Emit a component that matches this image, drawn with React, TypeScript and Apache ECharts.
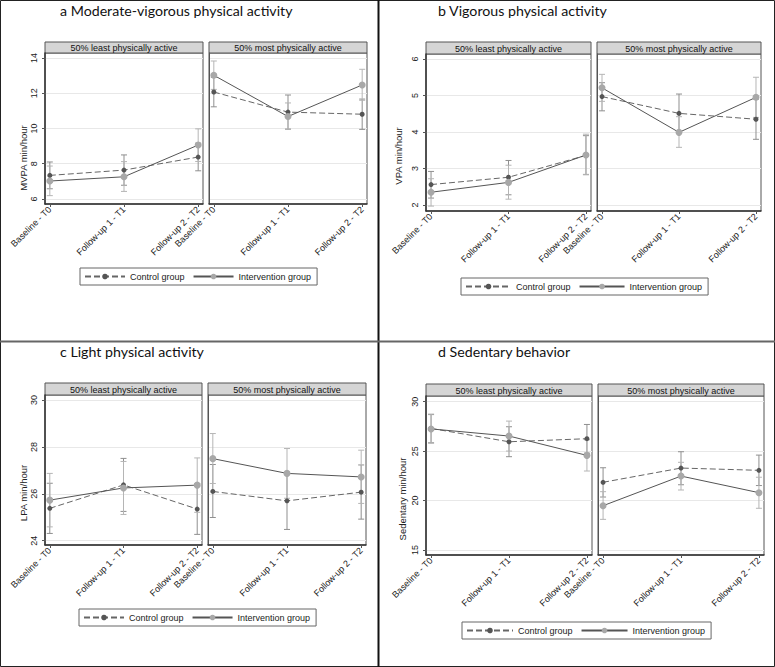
import React, { useEffect, useRef } from "react";
import * as echarts from "echarts";

// ---------- text ----------
const timepoints = ["Baseline - T0", "Follow-up 1 - T1", "Follow-up 2 - T2"];
const facetLabels = ["50% least physically active", "50% most physically active"];
const groupNames = ["Control group", "Intervention group"];
const panelTitles = [
  "a Moderate-vigorous physical activity",
  "b Vigorous physical activity",
  "c Light physical activity",
  "d Sedentary behavior",
];
const yAxisTitles = ["MVPA min/hour", "VPA min/hour", "LPA min/hour", "Sedentary min/hour"];

// ---------- tick labels ----------
const yTicksA = [6, 8, 10, 12, 14];
const yTicksB = [2, 3, 4, 5, 6];
const yTicksC = [24, 26, 28, 30];
const yTicksD = [15, 20, 25, 30];

// ---------- a: MVPA ----------
const mvpaLeastControl = [7.34, 7.64, 8.38];
const mvpaLeastControlLo = [6.58, 6.78, 7.6];
const mvpaLeastControlHi = [8.1, 8.5, 9.17];
const mvpaLeastInterv = [7.02, 7.26, 9.06];
const mvpaLeastIntervLo = [6.19, 6.43, 8.13];
const mvpaLeastIntervHi = [7.87, 8.12, 9.98];
const mvpaMostControl = [12.07, 10.93, 10.81];
const mvpaMostControlLo = [11.23, 9.96, 9.95];
const mvpaMostControlHi = [12.9, 11.9, 11.67];
const mvpaMostInterv = [13.02, 10.68, 12.47];
const mvpaMostIntervLo = [12.22, 9.97, 11.6];
const mvpaMostIntervHi = [13.83, 11.45, 13.36];

// ---------- b: VPA ----------
const vpaLeastControl = [2.56, 2.76, 3.36];
const vpaLeastControlLo = [2.19, 2.28, 2.83];
const vpaLeastControlHi = [2.92, 3.22, 3.9];
const vpaLeastInterv = [2.35, 2.62, 3.37];
const vpaLeastIntervLo = [1.97, 2.16, 2.84];
const vpaLeastIntervHi = [2.72, 3.09, 3.94];
const vpaMostControl = [4.97, 4.51, 4.35];
const vpaMostControlLo = [4.58, 3.98, 3.8];
const vpaMostControlHi = [5.35, 5.04, 4.9];
const vpaMostInterv = [5.21, 3.99, 4.95];
const vpaMostIntervLo = [4.84, 3.58, 4.4];
const vpaMostIntervHi = [5.58, 4.42, 5.5];

// ---------- c: LPA ----------
const lpaLeastControl = [25.38, 26.38, 25.35];
const lpaLeastControlLo = [24.31, 25.25, 24.27];
const lpaLeastControlHi = [26.45, 27.51, 26.43];
const lpaLeastInterv = [25.73, 26.25, 26.37];
const lpaLeastIntervLo = [24.59, 25.12, 25.21];
const lpaLeastIntervHi = [26.87, 27.38, 27.53];
const lpaMostControl = [26.1, 25.7, 26.07];
const lpaMostControlLo = [24.99, 24.48, 24.92];
const lpaMostControlHi = [27.25, 26.92, 27.23];
const lpaMostInterv = [27.5, 26.87, 26.72];
const lpaMostIntervLo = [26.44, 25.81, 25.59];
const lpaMostIntervHi = [28.57, 27.93, 27.86];

// ---------- d: Sedentary ----------
const sedLeastControl = [27.3, 25.95, 26.26];
const sedLeastControlLo = [25.85, 24.44, 24.8];
const sedLeastControlHi = [28.7, 27.47, 27.7];
const sedLeastInterv = [27.25, 26.53, 24.57];
const sedLeastIntervLo = [25.8, 25.01, 22.99];
const sedLeastIntervHi = [28.75, 28.04, 26.15];
const sedMostControl = [21.85, 23.29, 23.06];
const sedMostControlLo = [20.36, 21.6, 21.52];
const sedMostControlHi = [23.32, 24.94, 24.6];
const sedMostInterv = [19.48, 22.48, 20.8];
const sedMostIntervLo = [18.1, 21.07, 19.22];
const sedMostIntervHi = [20.9, 23.87, 22.36];

// ---------- assembly ----------
type Facet = { c: number[]; cLo: number[]; cHi: number[]; i: number[]; iLo: number[]; iHi: number[] };
const panelData: { ticks: number[]; facets: Facet[] }[] = [
  {
    ticks: yTicksA,
    facets: [
      { c: mvpaLeastControl, cLo: mvpaLeastControlLo, cHi: mvpaLeastControlHi, i: mvpaLeastInterv, iLo: mvpaLeastIntervLo, iHi: mvpaLeastIntervHi },
      { c: mvpaMostControl, cLo: mvpaMostControlLo, cHi: mvpaMostControlHi, i: mvpaMostInterv, iLo: mvpaMostIntervLo, iHi: mvpaMostIntervHi },
    ],
  },
  {
    ticks: yTicksB,
    facets: [
      { c: vpaLeastControl, cLo: vpaLeastControlLo, cHi: vpaLeastControlHi, i: vpaLeastInterv, iLo: vpaLeastIntervLo, iHi: vpaLeastIntervHi },
      { c: vpaMostControl, cLo: vpaMostControlLo, cHi: vpaMostControlHi, i: vpaMostInterv, iLo: vpaMostIntervLo, iHi: vpaMostIntervHi },
    ],
  },
  {
    ticks: yTicksC,
    facets: [
      { c: lpaLeastControl, cLo: lpaLeastControlLo, cHi: lpaLeastControlHi, i: lpaLeastInterv, iLo: lpaLeastIntervLo, iHi: lpaLeastIntervHi },
      { c: lpaMostControl, cLo: lpaMostControlLo, cHi: lpaMostControlHi, i: lpaMostInterv, iLo: lpaMostIntervLo, iHi: lpaMostIntervHi },
    ],
  },
  {
    ticks: yTicksD,
    facets: [
      { c: sedLeastControl, cLo: sedLeastControlLo, cHi: sedLeastControlHi, i: sedLeastInterv, iLo: sedLeastIntervLo, iHi: sedLeastIntervHi },
      { c: sedMostControl, cLo: sedMostControlLo, cHi: sedMostControlHi, i: sedMostInterv, iLo: sedMostIntervLo, iHi: sedMostIntervHi },
    ],
  },
];

// ---------- layout (pixels) ----------
type Layout = {
  titleX: number; titleY: number;
  grids: [number, number, number, number][]; // left, top, width, height
  stripTop: number;
  yMin: number; yMax: number;
  legend: { x: number; y: number; w: number };
  yName: [number, number];
};
const layouts: Layout[] = [
  { titleX: 60, titleY: 3, grids: [[45, 53, 158, 151], [209, 53, 158, 151]], stripTop: 42, yMin: 5.716, yMax: 14.284, legend: { x: 80, y: 268, w: 40 }, yName: [23, 158] },
  { titleX: 438, titleY: 3, grids: [[426, 54, 165, 157], [597, 54, 164, 157]], stripTop: 42, yMin: 1.836, yMax: 6.137, legend: { x: 461, y: 278, w: 45 }, yName: [398, 156] },
  { titleX: 60, titleY: 344, grids: [[45, 395, 157, 150], [208, 395, 158, 150]], stripTop: 383, yMin: 23.817, yMax: 30.213, legend: { x: 79, y: 609, w: 40 }, yName: [23, 493] },
  { titleX: 438, titleY: 344, grids: [[426, 396, 166, 159], [598, 396, 166, 159]], stripTop: 384, yMin: 14.494, yMax: 30.58, legend: { x: 462, y: 622, w: 46 }, yName: [402, 499] },
];

const FONT = "Liberation Sans";
const TITLE_FONT = "Lato";
const X_MIN = -0.065;
const X_MAX = 2.065;

function errorBarSeries(lo: number[], hi: number[], gi: number, color: string) {
  return {
    type: "custom",
    xAxisIndex: gi,
    yAxisIndex: gi,
    z: 1,
    silent: true,
    data: lo.map((l, k) => [k, l, hi[k]]),
    renderItem: (params: any, api: any) => {
      const x = api.value(0);
      const pLo = api.coord([x, api.value(1)]);
      const pHi = api.coord([x, api.value(2)]);
      const cap = 3;
      const style = { stroke: color, lineWidth: 1 };
      return {
        type: "group",
        children: [
          { type: "line", shape: { x1: pLo[0], y1: pLo[1], x2: pHi[0], y2: pHi[1] }, style },
          { type: "line", shape: { x1: pLo[0] - cap, y1: pLo[1], x2: pLo[0] + cap, y2: pLo[1] }, style },
          { type: "line", shape: { x1: pHi[0] - cap, y1: pHi[1], x2: pHi[0] + cap, y2: pHi[1] }, style },
        ],
      };
    },
  };
}

function buildOption() {
  const grid: any[] = [];
  const xAxis: any[] = [];
  const yAxis: any[] = [];
  const series: any[] = [];
  const legend: any[] = [];
  const title: any[] = [];
  const graphic: any[] = [];

  layouts.forEach((L, p) => {
    const pd = panelData[p];
    title.push({
      text: panelTitles[p],
      left: L.titleX,
      top: L.titleY,
      padding: 0,
      textStyle: { fontFamily: TITLE_FONT, fontSize: 14.2, fontWeight: "normal", color: "#111" },
    });
    legend.push({
      left: L.legend.x,
      top: L.legend.y,
      orient: "horizontal",
      itemWidth: L.legend.w,
      itemHeight: 7,
      itemGap: 8,
      padding: [4, 6, 4, 4],
      borderColor: "#666",
      borderWidth: 1,
      selectedMode: false,
      data: groupNames,
      textStyle: { fontFamily: FONT, fontSize: 9, color: "#222" },
    });
    graphic.push({
      type: "text",
      x: L.yName[0],
      y: L.yName[1],
      rotation: Math.PI / 2,
      silent: true,
      style: { text: yAxisTitles[p], fill: "#222", fontFamily: FONT, fontSize: 9.5, textAlign: "center", textVerticalAlign: "middle" },
    });

    L.grids.forEach((g, f) => {
      const gi = p * 2 + f;
      const [gl, gt, gw, gh] = g;
      grid.push({ left: gl, top: gt, width: gw, height: gh, show: true, borderColor: "#555", borderWidth: 1, backgroundColor: "#fff" });
      // strip header
      graphic.push({
        type: "rect",
        silent: true,
        shape: { x: gl, y: L.stripTop, width: gw, height: gt - L.stripTop },
        style: { fill: "#d5d5d5", stroke: "#555", lineWidth: 1 },
      });
      graphic.push({
        type: "text",
        silent: true,
        x: gl + gw / 2,
        y: (L.stripTop + gt) / 2 + 0.5,
        style: { text: facetLabels[f], fill: "#111", fontFamily: FONT, fontSize: 9, textAlign: "center", textVerticalAlign: "middle" },
      });

      xAxis.push({
        type: "value",
        gridIndex: gi,
        min: X_MIN,
        max: X_MAX,
        splitLine: { show: false },
        axisLine: { show: true, onZero: false, lineStyle: { color: "#333", width: 1.5 } },
        axisTick: { show: true, customValues: [0, 1, 2], length: 3, lineStyle: { color: "#555" } },
        axisLabel: {
          customValues: [0, 1, 2],
          rotate: 45,
          margin: 4,
          fontSize: 9,
          fontFamily: FONT,
          color: "#222",
          formatter: (v: number) => timepoints[Math.round(v)],
        },
      });
      yAxis.push({
        type: "value",
        gridIndex: gi,
        min: L.yMin,
        max: L.yMax,
        axisLine: { show: true, onZero: false, lineStyle: { color: f === 0 ? "#333" : "#555", width: f === 0 ? 1.5 : 1 } },
        axisTick: { show: f === 0, customValues: pd.ticks, length: 3, lineStyle: { color: "#555" } },
        axisLabel: {
          show: f === 0,
          customValues: pd.ticks,
          rotate: 90,
          margin: 7,
          fontSize: 9,
          fontFamily: FONT,
          color: "#222",
        },
        splitLine: { show: true, lineStyle: { color: "#e8e8e8", width: 1 } },
      });

      const fd = pd.facets[f];
      series.push(errorBarSeries(fd.cLo, fd.cHi, gi, "#8f8f8f"));
      series.push(errorBarSeries(fd.iLo, fd.iHi, gi, "#b5b5b5"));
      series.push({
        type: "line",
        name: groupNames[0],
        xAxisIndex: gi,
        yAxisIndex: gi,
        z: 2,
        data: fd.c.map((v, k) => [k, v]),
        symbol: "circle",
        symbolSize: 5,
        itemStyle: { color: "#555" },
        lineStyle: { color: "#666", width: 1, type: [6, 3] },
      });
      series.push({
        type: "line",
        name: groupNames[1],
        xAxisIndex: gi,
        yAxisIndex: gi,
        z: 3,
        data: fd.i.map((v, k) => [k, v]),
        symbol: "circle",
        symbolSize: 7,
        itemStyle: { color: "#a8a8a8" },
        lineStyle: { color: "#555", width: 1, type: "solid" },
      });
    });
  });

  // page frame and dividers
  graphic.push({ type: "rect", silent: true, shape: { x: 0.5, y: 0.5, width: 774, height: 666 }, style: { fill: "none", stroke: "#222", lineWidth: 1 } });
  graphic.push({ type: "line", silent: true, shape: { x1: 378.5, y1: 0, x2: 378.5, y2: 667 }, style: { stroke: "#111", lineWidth: 2 } });
  graphic.push({ type: "line", silent: true, shape: { x1: 0, y1: 341.5, x2: 775, y2: 341.5 }, style: { stroke: "#666", lineWidth: 2 } });

  return {
    animation: false,
    backgroundColor: "#fff",
    textStyle: { fontFamily: FONT },
    title,
    legend,
    grid,
    xAxis,
    yAxis,
    series,
    graphic,
  };
}

export default function App() {
  const ref = useRef<HTMLDivElement>(null);
  useEffect(() => {
    if (!ref.current) return;
    const chart = echarts.init(ref.current, undefined, { renderer: "svg" });
    chart.setOption(buildOption() as any);
    return () => chart.dispose();
  }, []);
  return <div ref={ref} style={{ position: "fixed", left: 0, top: 0, width: 775, height: 667 }} />;
}
